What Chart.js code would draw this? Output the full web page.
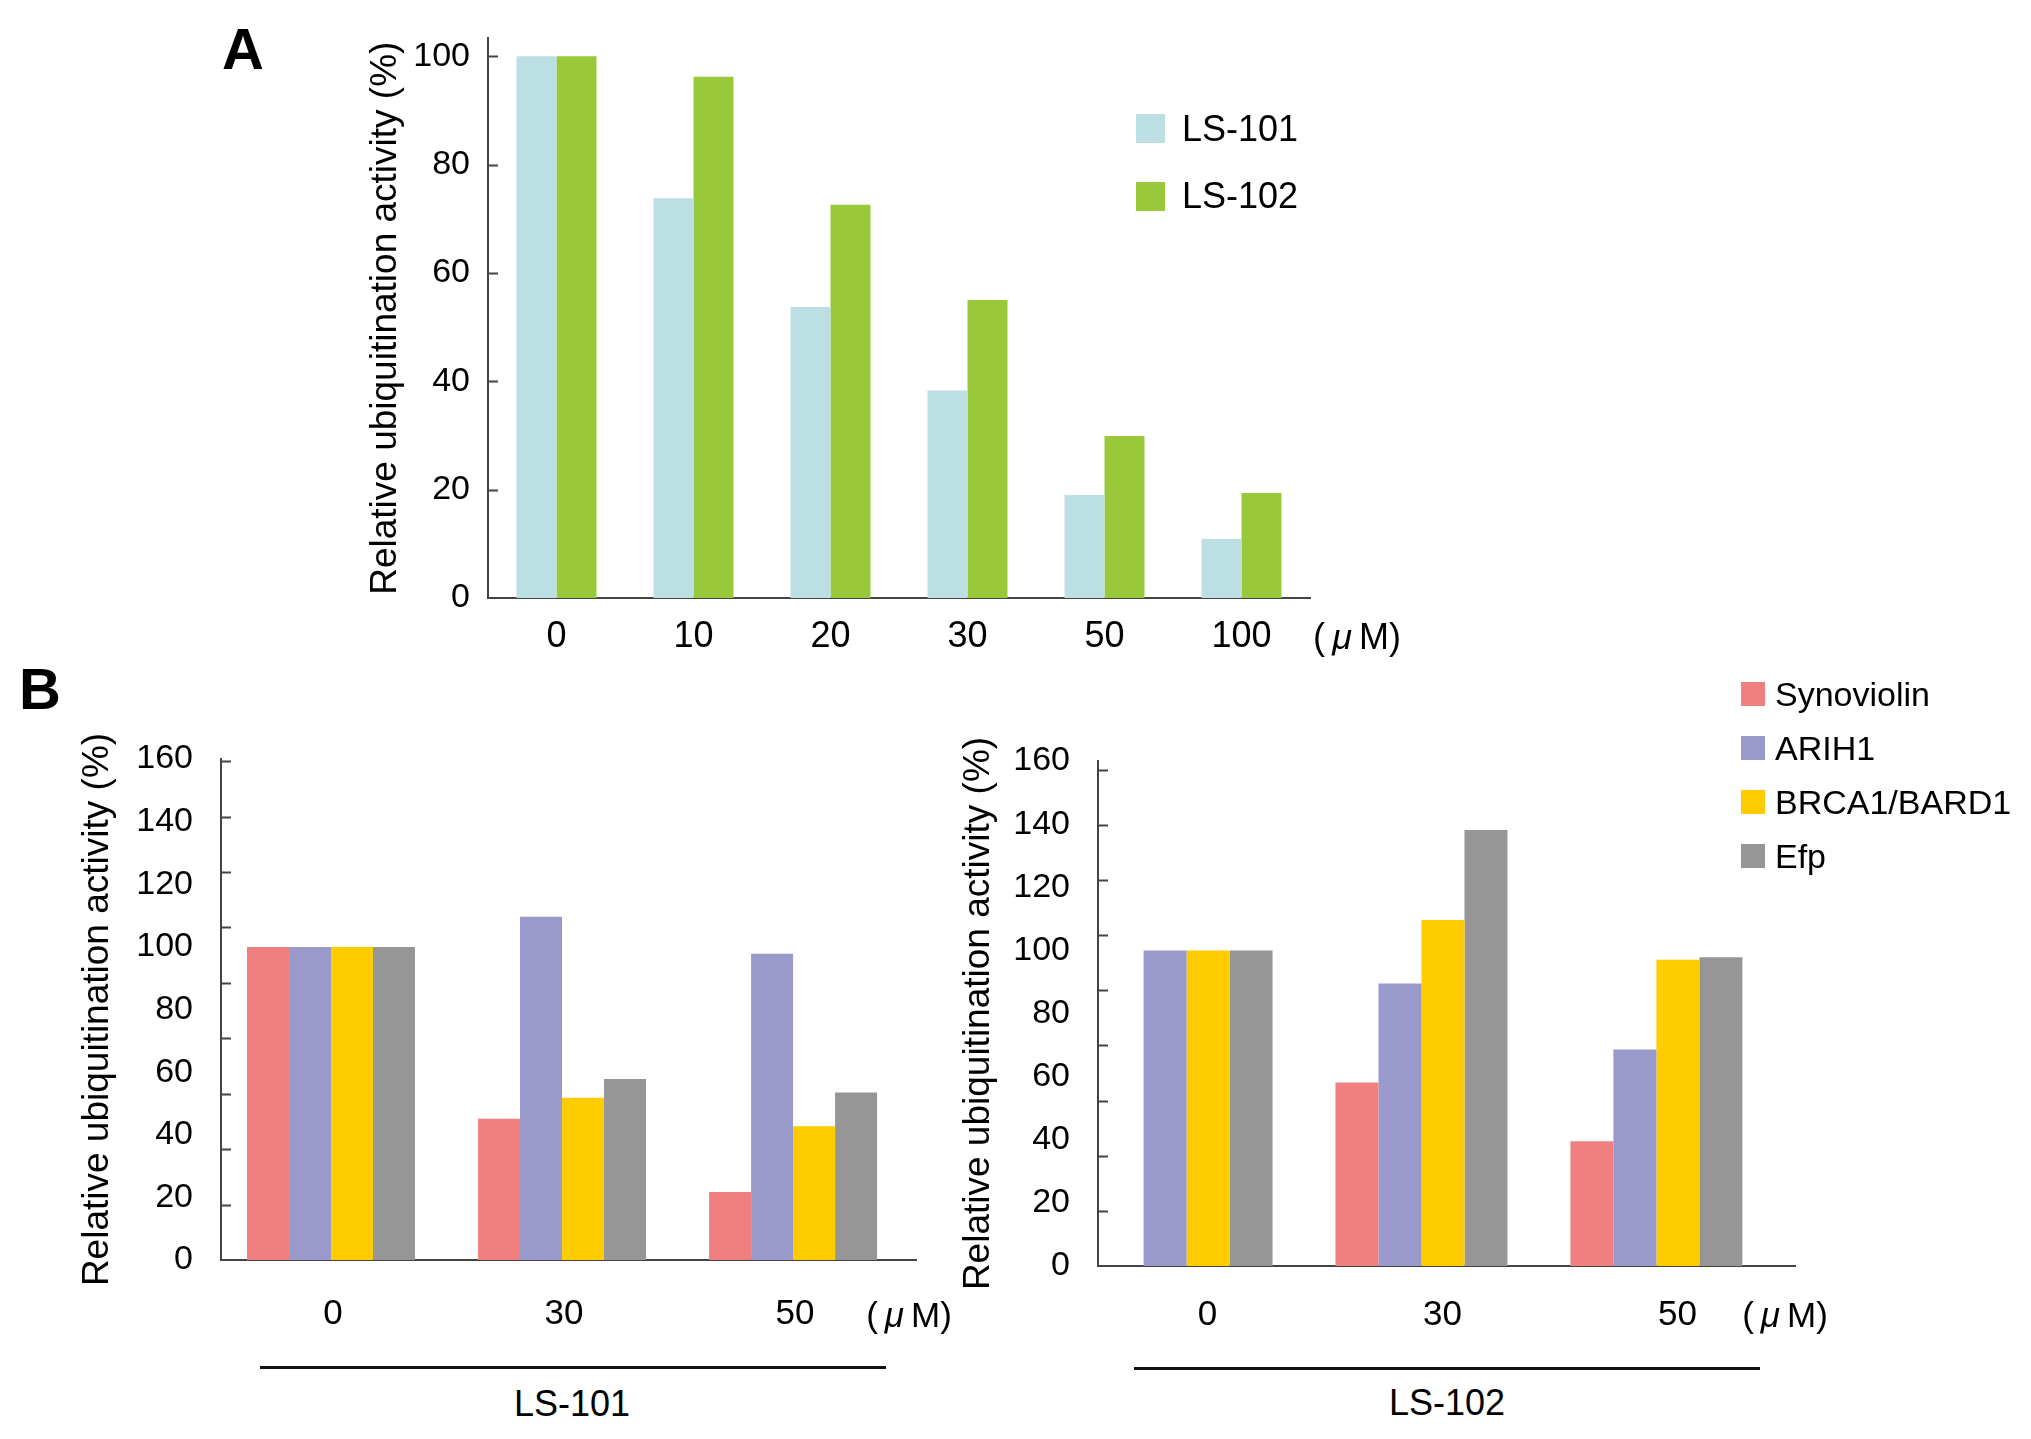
<!DOCTYPE html>
<html>
<head>
<meta charset="utf-8">
<script src="https://cdn.jsdelivr.net/npm/chart.js@4.4.1/dist/chart.umd.min.js"></script>
<style>
    body { margin: 0; background: #fff; }
    #fig { position: relative; width: 2031px; height: 1439px; overflow: hidden;
           font-family: 'Liberation Sans', Arial, sans-serif; color: #000; }
    canvas { position: absolute; }
    .t { position: absolute; line-height: 1; white-space: nowrap; transform: translate(-50%, -50%); }
    .l { position: absolute; line-height: 1; white-space: nowrap; transform: translateY(-50%); }
    .sw { position: absolute; }
    .rule { position: absolute; height: 3px; background: #111; }
    .panel { font-weight: bold; font-size: 58px; }
</style>
</head>
<body>
<div id="fig">
    <canvas id="chartA" width="1400" height="700" style="left:0;top:0"></canvas>
    <canvas id="chartB1" width="1000" height="700" style="left:0;top:660px"></canvas>
    <canvas id="chartB2" width="1091" height="700" style="left:940px;top:660px"></canvas>

    <div class="t panel" style="left:243px;top:49px">A</div>
    <div class="t panel" style="left:40px;top:689px">B</div>

    <div class="t" style="left:1357px;top:637px;font-size:36px">(&thinsp;<i>μ</i>&thinsp;M)</div>
    <div class="t" style="left:909px;top:1314px;font-size:35px">(&thinsp;<i>μ</i>&thinsp;M)</div>
    <div class="t" style="left:1785px;top:1314px;font-size:35px">(&thinsp;<i>μ</i>&thinsp;M)</div>

    <div class="rule" style="left:260px;top:1366px;width:626px"></div>
    <div class="rule" style="left:1134px;top:1367px;width:626px"></div>
    <div class="t" style="left:572px;top:1404px;font-size:36px">LS-101</div>
    <div class="t" style="left:1447px;top:1403px;font-size:36px">LS-102</div>

    <div id="legendA"></div>
    <div id="legendB"></div>
</div>

<script>
// Panel A
const dosesA = ['0', '10', '20', '30', '50', '100'];
const compoundsA = ['LS-101', 'LS-102'];
const ls101 = [100, 73.8, 53.7, 38.3, 19.0, 10.9];
const ls102 = [100, 96.2, 72.6, 55.0, 29.9, 19.4];
const colorsA = ['#BCDFE3', '#99C93B'];
const yTicksA = [0, 20, 40, 60, 80, 100];

// Panel B
const dosesB = ['0', '30', '50'];
const enzymes = ['Synoviolin', 'ARIH1', 'BRCA1/BARD1', 'Efp'];
const colorsB = ['#F08080', '#9999CC', '#FFCC00', '#969696'];
const synoviolin101 = [100, 45.1, 21.7];
const arih1_101 = [100, 109.6, 97.8];
const brca1_101 = [100, 51.8, 42.7];
const efp101 = [100, 57.8, 53.5];
const synoviolin102 = [null, 58.1, 39.5];
const arih1_102 = [100, 89.5, 68.6];
const brca1_102 = [100, 109.6, 97.0];
const efp102 = [100, 138.1, 97.8];

const yTitle = 'Relative ubiquitination activity (%)';
const axisColor = '#444';

Chart.defaults.font.family = "'Liberation Sans', Arial, sans-serif";
Chart.defaults.color = '#000';

// short tick marks drawn inside the plot, like the original figure
const innerTicks = {
    id: 'innerTicks',
    afterDraw(chart, args, opts) {
        const { ctx, chartArea } = chart;
        const y = chart.scales.y;
        ctx.save();
        ctx.strokeStyle = axisColor;
        ctx.lineWidth = 2;
        ctx.beginPath();
        for (let i = 1; i <= opts.count; i++) {
            const py = Math.round(y.getPixelForValue(i * opts.step)) + 0.5;
            ctx.moveTo(chartArea.left, py);
            ctx.lineTo(chartArea.left + 10, py);
        }
        ctx.stroke();
        ctx.restore();
    }
};

// Chart A
new Chart(document.getElementById('chartA'), {
    type: 'bar',
    data: {
        labels: dosesA,
        datasets: [
            { label: compoundsA[0], data: ls101, backgroundColor: colorsA[0] },
            { label: compoundsA[1], data: ls102, backgroundColor: colorsA[1] }
        ]
    },
    options: {
        responsive: false,
        animation: false,
        devicePixelRatio: 1,
        categoryPercentage: 0.584,
        barPercentage: 1,
        borderWidth: 0,
        layout: { padding: { left: 340, top: 34, right: 90, bottom: 0 } },
        plugins: {
            legend: { display: false },
            tooltip: { enabled: false },
            innerTicks: { step: 20, count: 5 }
        },
        scales: {
            x: {
                grid: { display: false, drawTicks: false },
                border: { color: axisColor, width: 2 },
                ticks: { padding: 17, font: { size: 36, lineHeight: 1.2 }, maxRotation: 0 },
                afterFit: (s) => { s.height = 102; }
            },
            y: {
                min: 0,
                max: 103.3,
                grid: { display: false, drawTicks: false },
                border: { color: axisColor, width: 2 },
                ticks: { padding: 18, font: { size: 34, lineHeight: 1.2 } },
                afterBuildTicks: (s) => { s.ticks = yTicksA.map(v => ({ value: v })); },
                title: { display: true, text: yTitle, font: { size: 37, lineHeight: 1.2 }, padding: { top: 24, bottom: 0 } },
                afterFit: (s) => { s.width = 148; }
            }
        }
    },
    plugins: [innerTicks]
});

// Charts B: linear x so the bar groups sit where the original has them
function makeChartB(id, series, cfg) {
    return new Chart(document.getElementById(id), {
        type: 'bar',
        data: {
            datasets: series.map((vals, k) => ({
                label: enzymes[k],
                data: vals.map((v, i) => ({ x: i, y: v })),
                backgroundColor: colorsB[k]
            }))
        },
        options: {
            responsive: false,
            animation: false,
            devicePixelRatio: 1,
            categoryPercentage: cfg.groupPct,
            barPercentage: 1,
            borderWidth: 0,
            layout: { padding: cfg.padding },
            plugins: {
                legend: { display: false },
                tooltip: { enabled: false },
                innerTicks: { step: cfg.tickStep, count: 9 }
            },
            scales: {
                x: {
                    type: 'linear',
                    min: cfg.xMin,
                    max: cfg.xMax,
                    offset: false,
                    grid: { display: false, drawTicks: false, offset: false },
                    border: { color: axisColor, width: 2 },
                    afterBuildTicks: (s) => { s.ticks = dosesB.map((d, i) => ({ value: i })); },
                    ticks: {
                        autoSkip: false,
                        maxRotation: 0,
                        padding: cfg.xPad,
                        labelOffset: cfg.labelOffset,
                        font: { size: 35, lineHeight: 1.2 },
                        callback: (v, i) => dosesB[i]
                    },
                    afterFit: (s) => { s.height = cfg.xHeight; }
                },
                y: {
                    min: 0,
                    max: 160,
                    grid: { display: false, drawTicks: false },
                    border: { color: axisColor, width: 2 },
                    ticks: { stepSize: 20, padding: 28, font: { size: 34, lineHeight: 1.2 } },
                    title: { display: true, text: yTitle, font: { size: 37, lineHeight: 1.2 }, padding: { top: cfg.titlePad, bottom: 0 } },
                    afterFit: (s) => { s.width = cfg.yWidth; }
                }
            }
        },
        plugins: [innerTicks]
    });
}

makeChartB('chartB1', [synoviolin101, arih1_101, brca1_101, efp101], {
    padding: { left: 60, top: 99, right: 84, bottom: 0 },
    yWidth: 161, xHeight: 100, titlePad: 16,
    xMin: -0.476, xMax: 2.532, groupPct: 0.727,
    xPad: 33, labelOffset: 2, tickStep: 17.7
});

makeChartB('chartB2', [synoviolin102, arih1_102, brca1_102, efp102], {
    padding: { left: 0, top: 101, right: 236, bottom: 0 },
    yWidth: 158, xHeight: 94, titlePad: 17,
    xMin: -0.377, xMax: 2.590, groupPct: 0.732,
    xPad: 28, labelOffset: 21, tickStep: 17.47
});

// Legends
function buildLegend(el, names, colors, o) {
    names.forEach((name, i) => {
        const cy = o.top + i * o.gap;
        const sw = document.createElement('div');
        sw.className = 'sw';
        sw.style.cssText = `left:${o.x}px;top:${cy - o.size / 2}px;width:${o.size}px;height:${o.size}px;background:${colors[i]}`;
        const tx = document.createElement('div');
        tx.className = 'l';
        tx.style.cssText = `left:${o.textX}px;top:${cy}px;font-size:${o.font}px`;
        tx.textContent = name;
        el.appendChild(sw);
        el.appendChild(tx);
    });
}

buildLegend(document.getElementById('legendA'), compoundsA, colorsA,
    { x: 1136, top: 128.5, gap: 67.5, size: 29, textX: 1182, font: 36 });
buildLegend(document.getElementById('legendB'), enzymes, colorsB,
    { x: 1741, top: 693.5, gap: 54.3, size: 24, textX: 1775, font: 34 });
</script>
</body>
</html>
